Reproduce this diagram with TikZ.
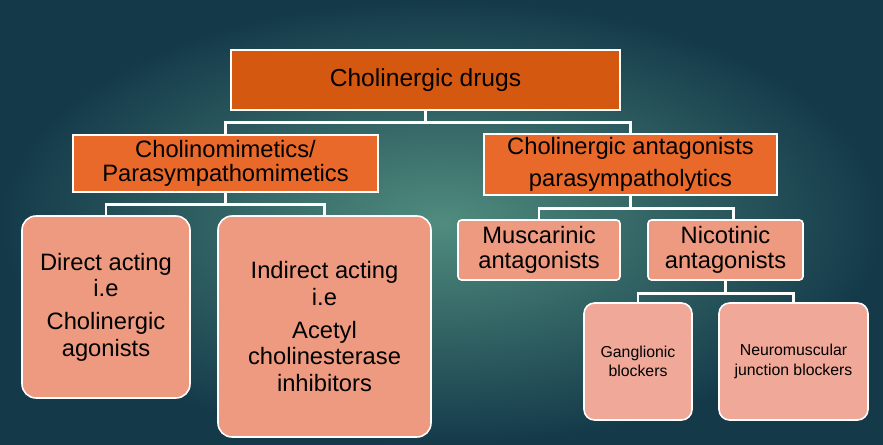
\documentclass[tikz,border=0pt]{standalone}
\usepackage{fontspec}
\setmainfont{Liberation Sans}
\usetikzlibrary{positioning}
\definecolor{topcolor}{RGB}{212, 88, 16}
\definecolor{midcolor}{RGB}{232, 105, 42}
\definecolor{leafcolor}{RGB}{238, 154, 128}
\definecolor{smallcolor}{RGB}{240, 168, 152}
\tikzset{
  box/.style={draw=white, line width=0.9pt, align=center, inner sep=2pt, text=black},
  wire/.style={draw=white, line width=1.6pt}
}
\begin{document}
\begin{tikzpicture}[x=0.02cm, y=-0.02cm]
        % Background
        \shade[inner color={rgb,255:red,80;green,140;blue,126}, outer color={rgb,255:red,20;green,58;blue,74}]
          (0,0) rectangle (883,444);
        \useasboundingbox (0,0) rectangle (883,444);

        % Boxes
        \node[box, fill=topcolor, minimum width=389*0.02cm, minimum height=60*0.02cm, font=\fontsize{14}{16}\selectfont]
          (drugs) at (425.5,80) {Cholinergic drugs};
        \node[box, fill=midcolor, minimum width=305*0.02cm, minimum height=57*0.02cm, font=\fontsize{13.5}{14}\selectfont]
          (mimetics) at (225.5,163.5) {Cholinomimetics/\\Parasympathomimetics};
        \node[box, fill=midcolor, minimum width=293*0.02cm, minimum height=59*0.02cm, font=\fontsize{13.5}{18}\selectfont]
          (antag) at (630.5,164.5) {Cholinergic antagonists\\parasympatholytics};
        \node[box, fill=leafcolor, rounded corners=8pt, minimum width=168*0.02cm, minimum height=182*0.02cm, font=\fontsize{13.5}{15}\selectfont]
          (direct) at (106,307) {Direct acting\\i.e\\[4pt]Cholinergic\\agonists};
        \node[box, fill=leafcolor, rounded corners=8pt, minimum width=213*0.02cm, minimum height=221*0.02cm, font=\fontsize{13.5}{15}\selectfont]
          (indirect) at (324.5,326.5) {Indirect acting\\i.e\\[4pt]Acetyl\\cholinesterase\\inhibitors};
        \node[box, fill=leafcolor, rounded corners=2pt, minimum width=162*0.02cm, minimum height=60*0.02cm, font=\fontsize{13.5}{14}\selectfont]
          (musc) at (539,250) {Muscarinic\\antagonists};
        \node[box, fill=leafcolor, rounded corners=2pt, minimum width=155*0.02cm, minimum height=60*0.02cm, font=\fontsize{13.5}{14}\selectfont]
          (nico) at (725.5,250) {Nicotinic\\antagonists};
        \node[box, fill=smallcolor, rounded corners=6pt, minimum width=108*0.02cm, minimum height=117*0.02cm, font=\fontsize{9}{11}\selectfont]
          (gang) at (638,361.5) {Ganglionic\\blockers};
        \node[box, fill=smallcolor, rounded corners=6pt, minimum width=149*0.02cm, minimum height=117*0.02cm, font=\fontsize{9}{11}\selectfont]
          (neuro) at (793.5,361.5) {Neuromuscular\\junction blockers};

        % Connectors
        \draw[wire] (drugs.south) -- ++(0,12) -| (mimetics.north);
        \draw[wire] (drugs.south) ++(0,12) -| (antag.north);
        \draw[wire] (mimetics.south) -- ++(0,12) -| (direct.north);
        \draw[wire] (mimetics.south) ++(0,12) -| (indirect.north);
        \draw[wire] (antag.south) -- ++(0,13) -| (musc.north);
        \draw[wire] (antag.south) ++(0,13) -| ([xshift=0.16cm]nico.north);
        \draw[wire] (nico.south) -- ++(0,13) -| (gang.north);
        \draw[wire] (nico.south) ++(0,13) -| (neuro.north);
\end{tikzpicture}
\end{document}
